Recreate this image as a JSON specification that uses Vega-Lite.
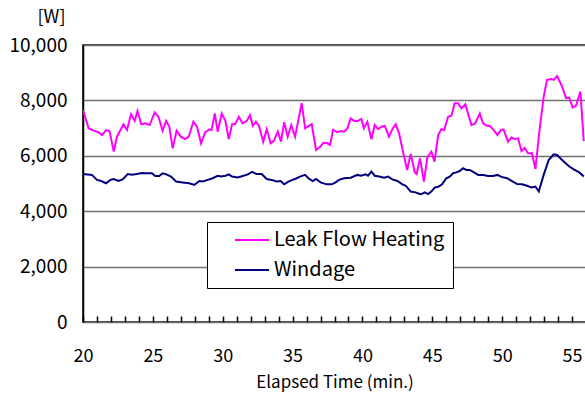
{
  "$schema": "https://vega.github.io/schema/vega-lite/v6.json",
  "autosize": {"type": "none"},
  "padding": {"left": 83, "top": 45, "right": 0, "bottom": 72},
  "width": 503,
  "height": 277,
  "background": "white",
  "config": {
    "font": "Noto Sans CJK JP",
    "view": {"stroke": "black", "strokeWidth": 1.5},
    "axis": {"labelFont": "Noto Sans CJK JP", "titleFont": "Noto Sans CJK JP", "labelColor": "black", "titleColor": "black", "domainColor": "black", "tickColor": "black"}
  },
  "data": {"values": [
    {"t":20.0,"v":7650,"s":"L"},{"t":20.4,"v":6990,"s":"L"},{"t":20.77,"v":6910,"s":"L"},{"t":21.1,"v":6850,"s":"L"},{"t":21.36,"v":6750,"s":"L"},{"t":21.65,"v":6930,"s":"L"},{"t":21.9,"v":6890,"s":"L"},{"t":22.2,"v":6150,"s":"L"},{"t":22.43,"v":6690,"s":"L"},{"t":22.9,"v":7140,"s":"L"},{"t":23.15,"v":6930,"s":"L"},{"t":23.44,"v":7500,"s":"L"},{"t":23.7,"v":7260,"s":"L"},{"t":23.9,"v":7620,"s":"L"},{"t":24.17,"v":7140,"s":"L"},{"t":24.46,"v":7170,"s":"L"},{"t":24.77,"v":7110,"s":"L"},{"t":25.13,"v":7570,"s":"L"},{"t":25.4,"v":7410,"s":"L"},{"t":25.7,"v":6900,"s":"L"},{"t":25.95,"v":7260,"s":"L"},{"t":26.18,"v":7050,"s":"L"},{"t":26.42,"v":6270,"s":"L"},{"t":26.7,"v":6910,"s":"L"},{"t":27.0,"v":6690,"s":"L"},{"t":27.3,"v":6600,"s":"L"},{"t":27.57,"v":6690,"s":"L"},{"t":27.9,"v":7230,"s":"L"},{"t":28.16,"v":7050,"s":"L"},{"t":28.45,"v":6450,"s":"L"},{"t":28.75,"v":6850,"s":"L"},{"t":29.04,"v":6950,"s":"L"},{"t":29.2,"v":6930,"s":"L"},{"t":29.43,"v":7530,"s":"L"},{"t":29.64,"v":6870,"s":"L"},{"t":29.93,"v":7530,"s":"L"},{"t":30.19,"v":7260,"s":"L"},{"t":30.43,"v":6600,"s":"L"},{"t":30.67,"v":7140,"s":"L"},{"t":30.9,"v":7150,"s":"L"},{"t":31.15,"v":7410,"s":"L"},{"t":31.43,"v":7170,"s":"L"},{"t":31.72,"v":7260,"s":"L"},{"t":31.95,"v":7470,"s":"L"},{"t":32.15,"v":7080,"s":"L"},{"t":32.38,"v":7230,"s":"L"},{"t":32.6,"v":7080,"s":"L"},{"t":32.9,"v":6510,"s":"L"},{"t":33.15,"v":6960,"s":"L"},{"t":33.43,"v":6450,"s":"L"},{"t":33.67,"v":6550,"s":"L"},{"t":33.94,"v":6870,"s":"L"},{"t":34.17,"v":6510,"s":"L"},{"t":34.4,"v":7210,"s":"L"},{"t":34.65,"v":6690,"s":"L"},{"t":34.9,"v":7110,"s":"L"},{"t":35.18,"v":6690,"s":"L"},{"t":35.65,"v":7900,"s":"L"},{"t":35.9,"v":6990,"s":"L"},{"t":36.37,"v":7140,"s":"L"},{"t":36.68,"v":6210,"s":"L"},{"t":37.0,"v":6330,"s":"L"},{"t":37.2,"v":6470,"s":"L"},{"t":37.5,"v":6450,"s":"L"},{"t":37.68,"v":6390,"s":"L"},{"t":37.9,"v":6940,"s":"L"},{"t":38.2,"v":6850,"s":"L"},{"t":38.44,"v":6895,"s":"L"},{"t":38.68,"v":6870,"s":"L"},{"t":38.92,"v":6990,"s":"L"},{"t":39.16,"v":7350,"s":"L"},{"t":39.4,"v":7260,"s":"L"},{"t":39.68,"v":7260,"s":"L"},{"t":39.92,"v":7330,"s":"L"},{"t":40.1,"v":6990,"s":"L"},{"t":40.35,"v":7230,"s":"L"},{"t":40.64,"v":6600,"s":"L"},{"t":40.88,"v":7110,"s":"L"},{"t":41.12,"v":6960,"s":"L"},{"t":41.35,"v":7050,"s":"L"},{"t":41.6,"v":7080,"s":"L"},{"t":41.9,"v":6690,"s":"L"},{"t":42.14,"v":6960,"s":"L"},{"t":42.38,"v":7140,"s":"L"},{"t":42.62,"v":6810,"s":"L"},{"t":42.98,"v":5970,"s":"L"},{"t":43.2,"v":5490,"s":"L"},{"t":43.45,"v":6070,"s":"L"},{"t":43.75,"v":5400,"s":"L"},{"t":43.88,"v":5340,"s":"L"},{"t":44.12,"v":5910,"s":"L"},{"t":44.4,"v":5070,"s":"L"},{"t":44.65,"v":5950,"s":"L"},{"t":44.93,"v":6150,"s":"L"},{"t":45.16,"v":5790,"s":"L"},{"t":45.42,"v":6750,"s":"L"},{"t":45.65,"v":6960,"s":"L"},{"t":45.85,"v":6930,"s":"L"},{"t":46.13,"v":7410,"s":"L"},{"t":46.37,"v":7450,"s":"L"},{"t":46.6,"v":7900,"s":"L"},{"t":46.84,"v":7900,"s":"L"},{"t":47.08,"v":7710,"s":"L"},{"t":47.36,"v":7860,"s":"L"},{"t":47.8,"v":7110,"s":"L"},{"t":48.06,"v":7170,"s":"L"},{"t":48.4,"v":7530,"s":"L"},{"t":48.63,"v":7170,"s":"L"},{"t":48.87,"v":7090,"s":"L"},{"t":49.1,"v":7080,"s":"L"},{"t":49.4,"v":6930,"s":"L"},{"t":49.66,"v":6750,"s":"L"},{"t":49.9,"v":6930,"s":"L"},{"t":50.1,"v":6950,"s":"L"},{"t":50.42,"v":6510,"s":"L"},{"t":50.66,"v":6660,"s":"L"},{"t":50.9,"v":6610,"s":"L"},{"t":51.14,"v":6630,"s":"L"},{"t":51.38,"v":6170,"s":"L"},{"t":51.6,"v":6290,"s":"L"},{"t":51.85,"v":6090,"s":"L"},{"t":52.13,"v":6090,"s":"L"},{"t":52.38,"v":5520,"s":"L"},{"t":52.66,"v":6870,"s":"L"},{"t":52.97,"v":8130,"s":"L"},{"t":53.21,"v":8740,"s":"L"},{"t":53.52,"v":8770,"s":"L"},{"t":53.69,"v":8740,"s":"L"},{"t":53.93,"v":8880,"s":"L"},{"t":54.29,"v":8500,"s":"L"},{"t":54.57,"v":8080,"s":"L"},{"t":54.8,"v":8100,"s":"L"},{"t":55.05,"v":7740,"s":"L"},{"t":55.29,"v":7810,"s":"L"},{"t":55.6,"v":8320,"s":"L"},{"t":55.84,"v":6530,"s":"L"},
    {"t":20.0,"v":5340,"s":"W"},{"t":20.64,"v":5310,"s":"W"},{"t":21.0,"v":5130,"s":"W"},{"t":21.3,"v":5090,"s":"W"},{"t":21.65,"v":5010,"s":"W"},{"t":21.96,"v":5130,"s":"W"},{"t":22.2,"v":5160,"s":"W"},{"t":22.55,"v":5090,"s":"W"},{"t":22.86,"v":5160,"s":"W"},{"t":23.2,"v":5340,"s":"W"},{"t":23.5,"v":5320,"s":"W"},{"t":23.86,"v":5340,"s":"W"},{"t":24.22,"v":5380,"s":"W"},{"t":24.57,"v":5370,"s":"W"},{"t":24.93,"v":5370,"s":"W"},{"t":25.17,"v":5270,"s":"W"},{"t":25.46,"v":5270,"s":"W"},{"t":25.7,"v":5370,"s":"W"},{"t":25.97,"v":5330,"s":"W"},{"t":26.3,"v":5250,"s":"W"},{"t":26.66,"v":5070,"s":"W"},{"t":27.13,"v":5040,"s":"W"},{"t":27.6,"v":5010,"s":"W"},{"t":27.97,"v":4950,"s":"W"},{"t":28.33,"v":5090,"s":"W"},{"t":28.57,"v":5070,"s":"W"},{"t":28.93,"v":5130,"s":"W"},{"t":29.28,"v":5190,"s":"W"},{"t":29.64,"v":5280,"s":"W"},{"t":29.88,"v":5250,"s":"W"},{"t":30.2,"v":5280,"s":"W"},{"t":30.43,"v":5330,"s":"W"},{"t":30.67,"v":5250,"s":"W"},{"t":31.07,"v":5220,"s":"W"},{"t":31.43,"v":5270,"s":"W"},{"t":31.8,"v":5330,"s":"W"},{"t":32.1,"v":5420,"s":"W"},{"t":32.43,"v":5340,"s":"W"},{"t":32.79,"v":5340,"s":"W"},{"t":33.15,"v":5160,"s":"W"},{"t":33.5,"v":5130,"s":"W"},{"t":33.86,"v":5070,"s":"W"},{"t":34.14,"v":5090,"s":"W"},{"t":34.4,"v":4970,"s":"W"},{"t":34.7,"v":5070,"s":"W"},{"t":35.0,"v":5130,"s":"W"},{"t":35.3,"v":5190,"s":"W"},{"t":35.53,"v":5250,"s":"W"},{"t":35.9,"v":5310,"s":"W"},{"t":36.13,"v":5190,"s":"W"},{"t":36.44,"v":5090,"s":"W"},{"t":36.68,"v":5160,"s":"W"},{"t":37.0,"v":5040,"s":"W"},{"t":37.44,"v":4970,"s":"W"},{"t":37.8,"v":4970,"s":"W"},{"t":38.05,"v":5030,"s":"W"},{"t":38.33,"v":5130,"s":"W"},{"t":38.68,"v":5190,"s":"W"},{"t":39.16,"v":5210,"s":"W"},{"t":39.64,"v":5310,"s":"W"},{"t":39.9,"v":5280,"s":"W"},{"t":40.23,"v":5330,"s":"W"},{"t":40.4,"v":5280,"s":"W"},{"t":40.64,"v":5430,"s":"W"},{"t":40.88,"v":5280,"s":"W"},{"t":41.19,"v":5250,"s":"W"},{"t":41.55,"v":5210,"s":"W"},{"t":41.83,"v":5250,"s":"W"},{"t":42.14,"v":5150,"s":"W"},{"t":42.5,"v":5090,"s":"W"},{"t":42.86,"v":4970,"s":"W"},{"t":43.1,"v":4920,"s":"W"},{"t":43.45,"v":4710,"s":"W"},{"t":43.8,"v":4680,"s":"W"},{"t":44.05,"v":4630,"s":"W"},{"t":44.2,"v":4610,"s":"W"},{"t":44.46,"v":4680,"s":"W"},{"t":44.7,"v":4620,"s":"W"},{"t":44.93,"v":4710,"s":"W"},{"t":45.17,"v":4850,"s":"W"},{"t":45.46,"v":4890,"s":"W"},{"t":45.7,"v":4970,"s":"W"},{"t":46.0,"v":5190,"s":"W"},{"t":46.25,"v":5250,"s":"W"},{"t":46.48,"v":5370,"s":"W"},{"t":46.72,"v":5400,"s":"W"},{"t":46.96,"v":5450,"s":"W"},{"t":47.2,"v":5550,"s":"W"},{"t":47.44,"v":5490,"s":"W"},{"t":47.68,"v":5490,"s":"W"},{"t":47.99,"v":5400,"s":"W"},{"t":48.28,"v":5310,"s":"W"},{"t":48.64,"v":5310,"s":"W"},{"t":49.0,"v":5270,"s":"W"},{"t":49.35,"v":5270,"s":"W"},{"t":49.66,"v":5310,"s":"W"},{"t":49.95,"v":5240,"s":"W"},{"t":50.35,"v":5190,"s":"W"},{"t":50.7,"v":5090,"s":"W"},{"t":51.07,"v":4980,"s":"W"},{"t":51.43,"v":4970,"s":"W"},{"t":51.78,"v":4920,"s":"W"},{"t":52.09,"v":4860,"s":"W"},{"t":52.38,"v":4890,"s":"W"},{"t":52.62,"v":4710,"s":"W"},{"t":52.97,"v":5310,"s":"W"},{"t":53.33,"v":5850,"s":"W"},{"t":53.69,"v":6050,"s":"W"},{"t":53.93,"v":6030,"s":"W"},{"t":54.29,"v":5850,"s":"W"},{"t":54.76,"v":5630,"s":"W"},{"t":55.12,"v":5510,"s":"W"},{"t":55.52,"v":5400,"s":"W"},{"t":55.84,"v":5250,"s":"W"}
  ]},
  "mark": {"type": "line", "strokeWidth": 2, "clip": true},
  "encoding": {
    "x": {
      "field": "t", "type": "quantitative",
      "scale": {"domain": [20, 56], "nice": false, "zero": false},
      "axis": {
        "title": "Elapsed Time (min.)",
        "titleFontSize": 17, "titleFontWeight": "normal",
        "titleY": 66, "titleBaseline": "middle",
        "values": [20,21,22,23,24,25,26,27,28,29,30,31,32,33,34,35,36,37,38,39,40,41,42,43,44,45,46,47,48,49,50,51,52,53,54,55,56],
        "labelExpr": "datum.value % 5 === 0 ? datum.label : ''",
        "labelFontSize": 18, "labelPadding": 25, "labelFlush": false, "labelOverlap": false,
        "offset": -6, "domain": false, "zindex": 1,
        "ticks": true, "tickSize": 6, "tickWidth": 1.5, "tickOpacity": 1,
        "grid": false
      }
    },
    "y": {
      "field": "v", "type": "quantitative",
      "scale": {"domain": [0, 10000], "nice": false},
      "axis": {
        "title": "[W]", "titleAngle": 0, "titleFontSize": 18, "titleFontWeight": "normal",
        "titleX": -32, "titleY": -28, "titleAlign": "center", "titleBaseline": "middle",
        "values": [0, 2000, 4000, 6000, 8000, 10000], "format": ",.0f",
        "labelFontSize": 19, "labelPadding": 16, "ticks": false,
        "domainWidth": 1.5,
        "grid": true, "gridColor": "#707070", "gridWidth": 1.5
      }
    },
    "color": {
      "field": "s", "type": "nominal",
      "scale": {"domain": ["L", "W"], "range": ["#FF00FF", "#000080"]},
      "legend": {
        "title": null, "orient": "none", "legendX": 124, "legendY": 177,
        "labelExpr": "datum.value == 'L' ? 'Leak Flow Heating' : 'Windage'",
        "fillColor": "white", "strokeColor": "black",
        "padding": 8, "symbolOffset": 19, "symbolType": "stroke", "symbolSize": 1156,
        "symbolStrokeWidth": 2, "clipHeight": 20, "rowPadding": 10,
        "labelFontSize": 20, "labelColor": "black", "labelOffset": 4, "labelLimit": 300
      }
    }
  }
}
